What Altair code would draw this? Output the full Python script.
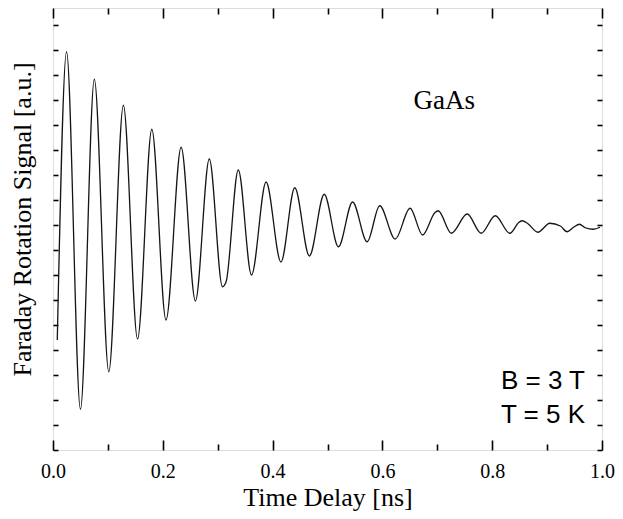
import altair as alt
import pandas as pd

# ---- data ----
t_ns = [0.0078, 0.0247, 0.0500, 0.0753, 0.1016, 0.1282, 0.1540, 0.1800, 0.2058,
        0.2334, 0.2594, 0.2847, 0.3087, 0.3153, 0.3375, 0.3616, 0.3881, 0.4152,
        0.4404, 0.4670, 0.4940, 0.5199, 0.5457, 0.5722, 0.5951, 0.6233, 0.6504,
        0.6733, 0.6955, 0.7016, 0.7256, 0.7545, 0.7798, 0.8056, 0.8321, 0.8489,
        0.8550, 0.8641, 0.8832, 0.9049, 0.9242, 0.9363, 0.9482, 0.9590, 0.9693,
        0.9843, 0.9964]
signal = [4.40, 15.93, 1.63, 14.83, 3.13, 13.79, 4.44, 12.83, 5.20,
          12.11, 5.96, 11.64, 6.53, 6.73, 11.20, 7.00, 10.72, 7.52,
          10.49, 7.76, 10.23, 8.13, 9.92, 8.33, 9.77, 8.44, 9.67,
          8.60, 9.49, 9.57, 8.67, 9.44, 8.67, 9.37, 8.67, 9.11,
          9.17, 9.07, 8.71, 9.07, 8.96, 8.73, 8.91, 9.03, 8.89,
          8.83, 8.91]

x_major = [0.0, 0.2, 0.4, 0.6, 0.8, 1.0]
x_minor = [0.1, 0.3, 0.5, 0.7, 0.9]
y_ticks = list(range(0, 18))

sample_label = ["GaAs"]
sample_x = [0.7126]
sample_y = [13.64]

cond_labels = ["B = 3 T", "T = 5 K"]
cond_x = [0.969, 0.969]
cond_y = [2.44, 1.07]

df = pd.DataFrame({"t": t_ns, "s": signal})
df_sample = pd.DataFrame({"x": sample_x, "y": sample_y, "label": sample_label})
df_cond = pd.DataFrame({"x": cond_x, "y": cond_y, "label": cond_labels})

SERIF = "Liberation Serif"
SANS = "Liberation Sans"

xscale = alt.Scale(domain=[0, 1], nice=False, zero=False)
yscale = alt.Scale(domain=[0, 17.68], nice=False, zero=False)

tick_common = dict(domain=False, grid=False, tickColor="black", tickWidth=1.6)

# main curve with bottom labelled axis and left titled axis
line = alt.Chart(df).mark_line(color="#151515", strokeWidth=1.3,
                               interpolate="monotone").encode(
    x=alt.X("t:Q", scale=xscale,
            axis=alt.Axis(orient="bottom", values=x_major, format=".1f",
                          tickSize=10, offset=-10, labelPadding=27,
                          labelBaseline="alphabetic", labelFlush=False,
                          labelFont=SERIF, labelFontSize=20, labelColor="black",
                          title="Time Delay [ns]", titleFont=SERIF,
                          titleFontSize=26, titleFontWeight="normal",
                          titleColor="black", titleBaseline="alphabetic",
                          titleY=65, **tick_common)),
    y=alt.Y("s:Q", scale=yscale,
            axis=alt.Axis(orient="left", values=y_ticks, labels=False,
                          tickSize=5, offset=-5,
                          title="Faraday Rotation Signal [a.u.]",
                          titleFont=SERIF, titleFontSize=26,
                          titleFontWeight="normal", titleColor="black",
                          titleBaseline="alphabetic", titleAlign="center",
                          titleAngle=270, titleX=-28, titleY=211,
                          **tick_common)),
)

# top major ticks + right ticks
top_right = alt.Chart(df).mark_line(strokeOpacity=0).encode(
    x=alt.X("t:Q", scale=xscale,
            axis=alt.Axis(orient="top", values=x_major, labels=False,
                          tickSize=10, offset=-10, title=None, **tick_common)),
    y=alt.Y("s:Q", scale=yscale,
            axis=alt.Axis(orient="right", values=y_ticks, labels=False,
                          tickSize=5, offset=-5, title=None, **tick_common)),
)

# minor ticks bottom
minor_bottom = alt.Chart(df).mark_line(strokeOpacity=0).encode(
    x=alt.X("t:Q", scale=xscale,
            axis=alt.Axis(orient="bottom", values=x_minor, labels=False,
                          tickSize=6, offset=-6, title=None, **tick_common)),
    y=alt.Y("s:Q", scale=yscale, axis=None),
)

# minor ticks top
minor_top = alt.Chart(df).mark_line(strokeOpacity=0).encode(
    x=alt.X("t:Q", scale=xscale,
            axis=alt.Axis(orient="top", values=x_minor, labels=False,
                          tickSize=6, offset=-6, title=None, **tick_common)),
    y=alt.Y("s:Q", scale=yscale, axis=None),
)

sample_text = alt.Chart(df_sample).mark_text(
    font=SERIF, fontSize=27, align="center", baseline="alphabetic", color="black"
).encode(
    x=alt.X("x:Q", scale=xscale, axis=None),
    y=alt.Y("y:Q", scale=yscale, axis=None),
    text="label:N",
)

cond_text = alt.Chart(df_cond).mark_text(
    font=SANS, fontSize=26, align="right", baseline="alphabetic", color="black"
).encode(
    x=alt.X("x:Q", scale=xscale, axis=None),
    y=alt.Y("y:Q", scale=yscale, axis=None),
    text="label:N",
)

chart = alt.layer(
    line, top_right, minor_bottom, minor_top, sample_text, cond_text
).resolve_axis(
    x="independent", y="independent"
).properties(
    width=549, height=442,
    autosize=alt.AutoSizeParams(type="none"),
    padding={"left": 45, "top": 0, "right": 13, "bottom": 61},
).configure_view(
    stroke="black", strokeWidth=2
).configure(
    background="white"
)

chart.save("out.html", embed_options={"renderer": "svg", "actions": False})
